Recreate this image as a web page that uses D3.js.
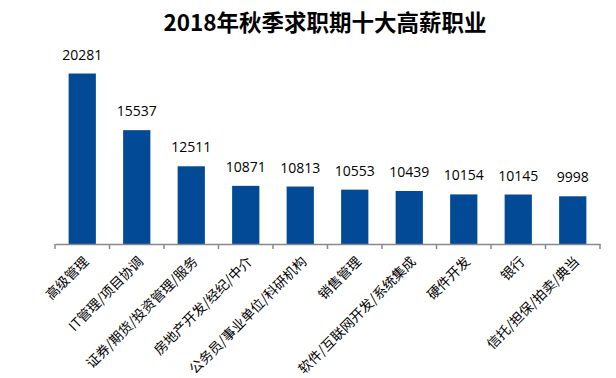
<!DOCTYPE html>
<html><head><meta charset="utf-8">
<script src="https://cdn.jsdelivr.net/npm/d3@7"></script>
<style>body{margin:0;background:#fff;}svg{display:block;}</style>
</head><body>
<svg id="chart" width="616" height="378"></svg>
<script>
const title = "2018年秋季求职期十大高薪职业";
const categories = ["高级管理","IT管理/项目协调","证券/期货/投资管理/服务","房地产开发/经纪/中介","公务员/事业单位/科研机构","销售管理","软件/互联网开发/系统集成","硬件开发","银行","信托/担保/拍卖/典当"];
const values = [20281,15537,12511,10871,10813,10553,10439,10154,10145,9998];

const svg = d3.select("#chart");
const x = d3.scaleBand().domain(categories).range([55, 600]).paddingInner(0.5).paddingOuter(0.25);
const y = d3.scaleLinear().domain([6000, 22000]).range([244, 53]);

svg.append("text").attr("x", 325).attr("y", 31).attr("text-anchor","middle")
  .attr("font-family","'Noto Sans CJK SC', sans-serif").attr("font-weight","bold")
  .attr("font-size", 22.5).attr("fill","#000").text(title);

svg.selectAll("rect.bar").data(values).enter().append("rect").attr("class","bar")
  .attr("x",(d,i)=>x(categories[i])).attr("width",x.bandwidth())
  .attr("y",d=>y(d)).attr("height",d=>244-y(d)).attr("fill","#034a96");

svg.selectAll("text.val").data(values).enter().append("text").attr("class","val")
  .attr("x",(d,i)=>x(categories[i])+x.bandwidth()/2).attr("y",d=>y(d)-14)
  .attr("text-anchor","middle").attr("font-family","'Open Sans', sans-serif")
  .attr("font-size",14).attr("fill","#000").text(d=>d);

const axis = d3.axisBottom(x).tickSize(5).tickSizeOuter(0).tickFormat("");
const g = svg.append("g").attr("transform","translate(0,244)").call(axis);
g.select(".domain").attr("stroke","#898989").attr("stroke-width",1.5);
g.selectAll(".tick").remove();
const step = x.step();
const bounds = d3.range(categories.length+1).map(i=>55 + i*step);
g.selectAll("line.bt").data(bounds).enter().append("line").attr("class","bt")
  .attr("x1",d=>d).attr("x2",d=>d).attr("y1",0).attr("y2",5)
  .attr("stroke","#898989").attr("stroke-width",1.5);

svg.selectAll("text.cat").data(categories).enter().append("text").attr("class","cat")
  .attr("transform",d=>`translate(${x(d)+x.bandwidth()/2+4},${259}) rotate(-45)`)
  .attr("text-anchor","end").attr("dy","0.35em")
  .attr("font-family","'Noto Sans CJK SC', sans-serif").attr("font-size",13.5)
  .attr("fill","#000").text(d=>d);
</script>
</body></html>
